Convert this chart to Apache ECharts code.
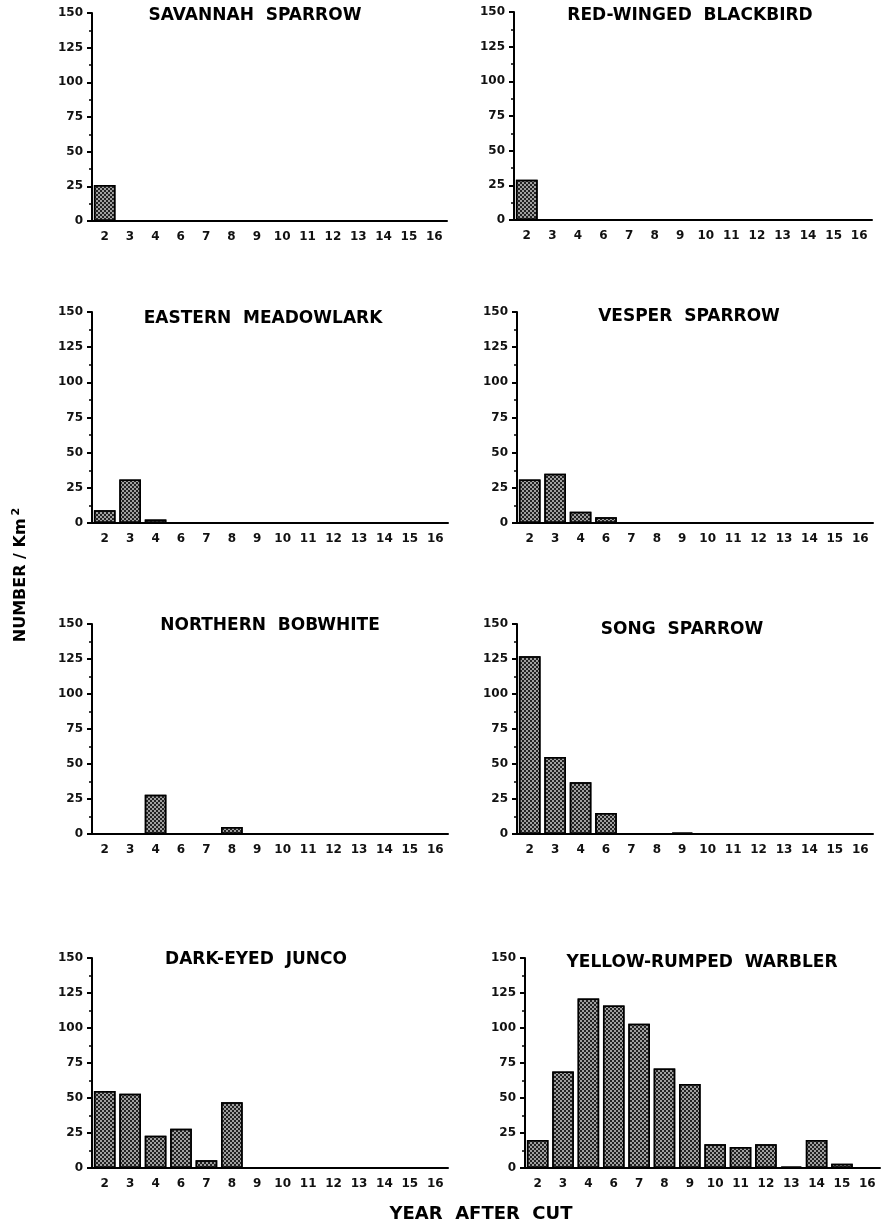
<!DOCTYPE html>
<html>
<head>
<meta charset="utf-8">
<script src="https://cdn.jsdelivr.net/npm/echarts@6/dist/echarts.min.js"></script>
<style>
html, body { margin: 0; padding: 0; background: #fff; }
#main { width: 888px; height: 1226px; }
</style>
</head>
<body>
<div id="main"></div>
<script>
// 年份（砍伐后年数），没有第5年
var years = ['2', '3', '4', '6', '7', '8', '9', '10', '11', '12', '13', '14', '15', '16'];
var yTicks = [0, 25, 50, 75, 100, 125, 150];

// 各鸟种密度 (number / km2)
var savannahSparrow    = [26, 0, 0.5, 0, 0, 0, 0, 0, 0.5, 0, 0, 0, 0.5, 0];
var redWingedBlackbird = [29, 0, 0.5, 0.5, 0, 0, 0, 0, 0.5, 0.5, 0, 0, 0.5, 0];
var easternMeadowlark  = [9, 31, 2.5, 0, 0, 0, 0, 0, 0, 0, 0, 0, 0, 0];
var vesperSparrow      = [31, 35, 8, 4, 0.5, 0.5, 0, 0, 0, 0, 0, 0, 0, 0];
var northernBobwhite   = [0.5, 0, 28, 0, 0, 5, 0, 0, 0.5, 0, 0, 0, 0.5, 0];
var songSparrow        = [127, 55, 37, 15, 0, 0, 1, 0.5, 0.5, 0, 0, 0, 0, 0];
var darkEyedJunco      = [55, 53, 23, 28, 5.5, 47, 0, 0, 0.5, 0, 0, 0, 0, 0];
var yellowRumpedWarbler = [20, 69, 121, 116, 103, 71, 60, 17, 15, 17, 1, 20, 3, 0];

var speciesNames = ['SAVANNAH  SPARROW', 'RED-WINGED  BLACKBIRD', 'EASTERN  MEADOWLARK', 'VESPER  SPARROW',
    'NORTHERN  BOBWHITE', 'SONG  SPARROW', 'DARK-EYED  JUNCO', 'YELLOW-RUMPED  WARBLER'];
var speciesData = [savannahSparrow, redWingedBlackbird, easternMeadowlark, vesperSparrow,
    northernBobwhite, songSparrow, darkEyedJunco, yellowRumpedWarbler];

// 每个小图的位置 [left, top, width, height, 标题x, 标题y]
var panels = [
    [92, 13, 355, 208, 255, 16],
    [514, 12, 358, 208, 690, 16],
    [92, 312, 356, 211, 263, 319],
    [517, 312, 356, 211, 689, 317],
    [92, 624, 356, 210, 270, 626],
    [517, 624, 356, 210, 682, 630],
    [92, 958, 356, 210, 256, 960],
    [525, 958, 355, 210, 702, 963]
];

var labelFont = { fontFamily: 'DejaVu Sans', fontWeight: 'bold', fontSize: 12, color: '#111' };

var myChart = echarts.init(document.getElementById('main'));

var grid = [], xAxis = [], yAxis = [], series = [], graphic = [];
panels.forEach(function (p, i) {
    grid.push({ left: p[0], top: p[1], width: p[2], height: p[3] });
    xAxis.push({
        type: 'category',
        gridIndex: i,
        data: years,
        axisLine: { lineStyle: { color: '#000', width: 2 } },
        axisTick: { alignWithLabel: true, length: 5, lineStyle: { color: '#000', width: 2 } },
        axisLabel: Object.assign({ margin: 10, interval: 0 }, labelFont),
        splitLine: { show: false }
    });
    yAxis.push({
        type: 'value',
        gridIndex: i,
        min: 0,
        max: 150,
        interval: 25,
        axisLine: { show: true, lineStyle: { color: '#000', width: 2 } },
        axisTick: { show: true, length: 5, lineStyle: { color: '#000', width: 2 } },
        minorTick: { show: true, splitNumber: 2, length: 3, lineStyle: { color: '#000', width: 1.5 } },
        axisLabel: Object.assign({ margin: 9 }, labelFont),
        splitLine: { show: false }
    });
    series.push({
        name: speciesNames[i],
        type: 'bar',
        xAxisIndex: i,
        yAxisIndex: i,
        data: speciesData[i],
        barWidth: '85%',
        itemStyle: {
            color: '#a0a0a0',
            borderColor: '#000',
            borderWidth: 1.5,
            decal: {
                symbol: 'rect',
                symbolSize: 1,
                color: '#222',
                dashArrayX: [[2, 2], [0, 2, 2, 0]],
                dashArrayY: [2, 0]
            }
        },
        animation: false
    });
    graphic.push({
        type: 'text',
        x: p[4],
        y: p[5],
        style: {
            text: speciesNames[i],
            fontFamily: 'DejaVu Sans',
            fontWeight: 'bold',
            fontSize: 17,
            fill: '#000',
            textAlign: 'center',
            textVerticalAlign: 'middle'
        }
    });
});

// 坐标轴名称
graphic.push({
    type: 'text',
    x: 21,
    y: 575,
    rotation: Math.PI / 2,
    style: {
        text: 'NUMBER / Km{sup|2}',
        rich: { sup: { fontSize: 11, fontWeight: 'bold', fontFamily: 'DejaVu Sans', verticalAlign: 'top', padding: [0, 0, 9, 3] } },
        fontFamily: 'DejaVu Sans',
        fontWeight: 'bold',
        fontSize: 16,
        fill: '#000',
        textAlign: 'center',
        textVerticalAlign: 'middle'
    }
});
graphic.push({
    type: 'text',
    x: 481,
    y: 1214,
    style: {
        text: 'YEAR  AFTER  CUT',
        fontFamily: 'DejaVu Sans',
        fontWeight: 'bold',
        fontSize: 18,
        fill: '#000',
        textAlign: 'center',
        textVerticalAlign: 'middle'
    }
});

option = {
    animation: false,
    backgroundColor: '#fff',
    grid: grid,
    xAxis: xAxis,
    yAxis: yAxis,
    series: series,
    graphic: graphic
};
myChart.setOption(option);
</script>
</body>
</html>
